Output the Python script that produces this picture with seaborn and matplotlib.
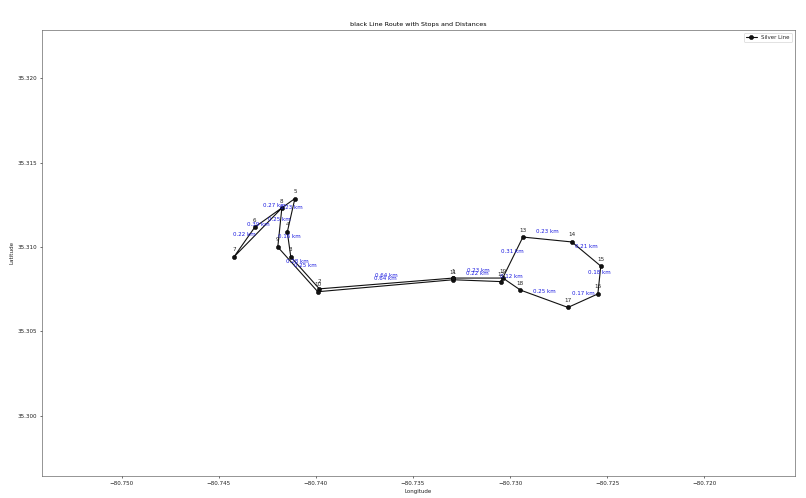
import matplotlib
matplotlib.use('Agg')
import matplotlib.pyplot as plt
import seaborn as sns

stops = list(range(1, 20))
lons = [-80.73293, -80.73982, -80.74129, -80.74147, -80.74108, -80.74314, -80.74422,
        -80.74175, -80.74196, -80.73990, -80.73293, -80.73047, -80.72934, -80.72682,
        -80.72533, -80.72548, -80.72702, -80.72947, -80.73037]
lats = [35.30816, 35.30752, 35.30941, 35.31089, 35.31287, 35.31118, 35.30941,
        35.31231, 35.31000, 35.30735, 35.30806, 35.30795, 35.31059, 35.31030,
        35.30887, 35.30722, 35.30642, 35.30745, 35.30816]
# distance from each stop to the next one, the last goes back to stop 1
distances = [0.64, 0.25, 0.16, 0.23, 0.27, 0.22, 0.39, 0.25, 0.28, 0.64,
             0.22, 0.31, 0.23, 0.21, 0.18, 0.17, 0.25, 0.12, 0.23]

route_lons = lons + lons[:1]
route_lats = lats + lats[:1]

sns.set_style('ticks')
plt.rcParams['font.family'] = ['DejaVu Sans']

fig, ax = plt.subplots(figsize=(16.12, 9.96))
fig.subplots_adjust(left=42 / 806, right=795 / 806, top=1 - 30 / 498, bottom=1 - 476 / 498)

sns.lineplot(
    x=route_lons,
    y=route_lats,
    sort=False,
    estimator=None,
    color='#111111',
    marker='o',
    markersize=6,
    markeredgecolor='black',
    lw=1.6,
    label='Silver Line',
    ax=ax,
)

for i, stop in enumerate(stops):
    ax.annotate(str(stop), (lons[i], lats[i]), xytext=(0, 6.5), textcoords='offset points',
                ha='center', va='bottom', fontsize=8.2, color='#222222')
    mid_x = (route_lons[i] + route_lons[i + 1]) / 2
    mid_y = (route_lats[i] + route_lats[i + 1]) / 2
    ax.annotate(f'{distances[i]:.2f} km', (mid_x, mid_y), xytext=(0, 11), textcoords='offset points',
                ha='center', va='center', fontsize=8, color='#1a1ae0')

ax.set_xlim(-80.7541, -80.71533)
ax.set_ylim(35.29643, 35.32286)
ax.set_xticks([-80.750, -80.745, -80.740, -80.735, -80.730, -80.725, -80.720])
ax.set_xticklabels(['−80.750', '−80.745', '−80.740', '−80.735', '−80.730', '−80.725', '−80.720'])
ax.set_yticks([35.300, 35.305, 35.310, 35.315, 35.320])
ax.set_yticklabels(['35.300', '35.305', '35.310', '35.315', '35.320'])
ax.tick_params(labelsize=8.2, length=3.5, width=0.8, color='black', labelcolor='#222222')
for s in ax.spines.values():
    s.set_visible(True)
    s.set_color('#444444')
    s.set_linewidth(0.8)

ax.set_title('black Line Route with Stops and Distances', fontsize=9.2, color='black')
ax.set_xlabel('Longitude', fontsize=8, color='#222222')
ax.set_ylabel('Latitude', fontsize=8.2, color='#222222')
ax.legend(loc='upper right', fontsize=8)

plt.savefig('out.png', dpi=50)
plt.close()
